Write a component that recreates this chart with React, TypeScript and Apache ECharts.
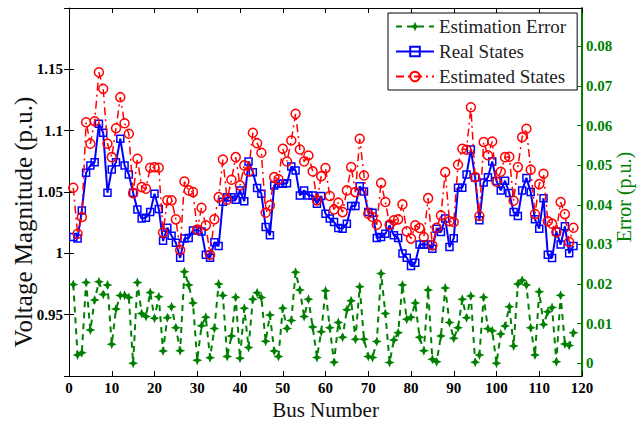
import React, { useEffect, useRef } from "react";
import * as echarts from "echarts";

const busNumbers: number[] = Array.from({ length: 118 }, (_, i) => i + 1);

const realStates: number[] = [
  1.0133, 1.012, 1.035, 1.0657, 1.0717, 1.0743, 1.1056, 1.0983, 1.0494, 1.0684,
  1.0743, 1.0934, 1.0717, 1.0643, 1.0494, 1.0358, 1.0283, 1.0291, 1.0336, 1.0486,
  1.0362, 1.0102, 1.0208, 1.0144, 1.0087, 0.9963, 1.012, 1.0125, 1.0187, 1.0191,
  1.0179, 0.9989, 0.9963, 1.009, 1.0059, 1.0421, 1.0458, 1.0458, 1.0436, 1.0513,
  1.0425, 1.0749, 1.0662, 1.0532, 1.0486, 1.0214, 1.0147, 1.0554, 1.0568, 1.0568,
  1.0572, 1.0708, 1.0676, 1.0472, 1.0513, 1.0472, 1.0472, 1.0405, 1.0467, 1.0323,
  1.0283, 1.0255, 1.0206, 1.0201, 1.0242, 1.0385, 1.0385, 1.0546, 1.0505, 1.0336,
  1.0331, 1.0125, 1.0133, 1.016, 1.0228, 1.0147, 1.0125, 0.9998, 0.9965, 0.9897,
  0.9924, 1.0071, 1.0071, 1.0073, 1.0038, 1.0201, 1.0173, 1.0283, 1.0051, 1.0122,
  1.0535, 1.0535, 1.0643, 1.0847, 1.0619, 1.0269, 1.0578, 1.0621, 1.0749, 1.059,
  1.0513, 1.0592, 1.0491, 1.0336, 1.0304, 1.0513, 1.0615, 1.0499, 1.0277, 1.0201,
  1.045, 0.9989, 0.9962, 1.0179, 1.0071, 1.022, 1.0, 1.0059,
];

const estimatedStates: number[] = [
  1.0535, 1.016, 1.0296, 1.1069, 1.0893, 1.1077, 1.1476, 1.1341, 1.0893, 1.0784,
  1.102, 1.1273, 1.1061, 1.0975, 1.0491, 1.0771, 1.054, 1.0527, 1.0698, 1.0702,
  1.0698, 1.0169, 1.0432, 1.0432, 1.0277, 1.0027, 1.0586, 1.0513, 1.0499, 1.0193,
  1.0372, 1.0228, 0.9989, 1.0277, 1.0458, 1.0765, 1.0437, 1.06, 1.0784, 1.0554,
  1.0717, 1.0668, 1.0983, 1.0898, 1.082, 1.0331, 1.0391, 1.0621, 1.0603, 1.0853,
  1.0749, 1.092, 1.1137, 1.0847, 1.0749, 1.0798, 1.0668, 1.0432, 1.0629, 1.0695,
  1.0467, 1.0358, 1.0413, 1.0336, 1.0513, 1.0703, 1.0499, 1.0934, 1.0635, 1.0323,
  1.0296, 1.0234, 1.0574, 1.0418, 1.0234, 1.0269, 1.0277, 1.0399, 1.0179, 1.012,
  1.0228, 1.0206, 1.0133, 1.045, 1.0065, 1.0209, 1.0309, 1.0662, 1.0261, 1.0255,
  1.0722, 1.0853, 1.0844, 1.1191, 1.0621, 1.0304, 1.0908, 1.08, 1.0912, 1.0584,
  1.0665, 1.0784, 1.0787, 1.0429, 1.0703, 1.0947, 1.1016, 1.0682, 1.032, 1.0564,
  1.0649, 1.0262, 1.0242, 1.0173, 1.0418, 1.032, 1.0092, 1.0209,
];

const estimationError: number[] = [
  0.0199, 0.0021, 0.0027, 0.0204, 0.0084, 0.016, 0.0206, 0.0174, 0.0198, 0.0048,
  0.0137, 0.0171, 0.0172, 0.0166, 0.0, 0.0204, 0.0126, 0.0118, 0.0179, 0.0114,
  0.0168, 0.0031, 0.0115, 0.0143, 0.009, 0.0032, 0.0231, 0.0198, 0.0152, 0.0008,
  0.0095, 0.0116, 0.0014, 0.0088, 0.02, 0.0171, 0.0017, 0.0069, 0.0167, 0.0013,
  0.0139, 0.004, 0.0162, 0.0178, 0.0166, 0.0056, 0.0122, 0.0031, 0.0017, 0.0139,
  0.0088, 0.0108, 0.023, 0.0185, 0.0118, 0.0162, 0.0092, 0.0015, 0.008, 0.0183,
  0.009, 0.0003, 0.0103, 0.0066, 0.0135, 0.0158, 0.0061, 0.0193, 0.0061, 0.0017,
  0.0015, 0.0055, 0.0227, 0.0126, 0.0002, 0.0059, 0.0077, 0.0198, 0.0111, 0.0116,
  0.0152, 0.0066, 0.0032, 0.0185, 0.001, 0.0004, 0.0069, 0.019, 0.0103, 0.0063,
  0.009, 0.0162, 0.0115, 0.017, 0.0003, 0.0021, 0.0167, 0.0087, 0.0082, 0.0,
  0.0074, 0.0094, 0.0143, 0.0044, 0.02, 0.021, 0.0198, 0.009, 0.0021, 0.0181,
  0.0098, 0.013, 0.0141, 0.0004, 0.0172, 0.0049, 0.0045, 0.0077,
];

const errorTicks: number[] = [0, 0.01, 0.02, 0.03, 0.04, 0.05, 0.06, 0.07, 0.08];

const GREEN = "#008000";
const BLUE = "#0000ff";
const RED = "#ff0000";
const SERIF = "'Liberation Serif', 'Times New Roman', serif";
const STAR = "path://M0,-10 L3,-3 L10,0 L3,3 L0,10 L-3,3 L-10,0 L-3,-3 Z";

export default function App() {
  const ref = useRef<HTMLDivElement>(null);

  useEffect(() => {
    if (!ref.current) return;
    const chart = echarts.init(ref.current, undefined, { renderer: "svg" });
    const pair = (vals: number[]) => busNumbers.map((b, i) => [b, vals[i]]);
    const tickLabel = {
      fontFamily: SERIF,
      fontWeight: "bold" as const,
      fontSize: 15,
      color: "#000",
    };
    chart.setOption({
      animation: false,
      backgroundColor: "#fff",
      grid: {
        left: 69,
        right: 61,
        top: 8,
        bottom: 45,
        containLabel: false,
        outerBoundsMode: "none",
      },
      graphic: [
        {
          type: "text",
          x: 23,
          y: 222,
          rotation: Math.PI / 2,
          style: {
            text: "Voltage Magnitude (p.u.)",
            fontFamily: SERIF,
            fontSize: 25,
            fill: "#111",
            align: "center",
            verticalAlign: "middle",
          },
        },
        {
          type: "text",
          x: 624,
          y: 197,
          rotation: Math.PI / 2,
          style: {
            text: "Error (p.u.)",
            fontFamily: SERIF,
            fontSize: 20,
            fill: GREEN,
            align: "center",
            verticalAlign: "middle",
          },
        },
      ],
      legend: {
        data: ["Estimation Error", "Real States", "Estimated States"],
        orient: "vertical",
        left: 388,
        top: 13,
        itemWidth: 38,
        itemHeight: 12,
        itemGap: 6,
        padding: [4, 11, 4, 7],
        backgroundColor: "#fff",
        borderColor: "#000",
        borderWidth: 1,
        borderRadius: 0,
        textStyle: { fontFamily: SERIF, fontSize: 19, color: "#222" },
      },
      xAxis: [
        {
          type: "value",
          min: 0,
          max: 120,
          interval: 10,
          position: "bottom",
          name: "Bus Number",
          nameLocation: "middle",
          nameGap: 21,
          nameTextStyle: { fontFamily: SERIF, fontSize: 21, color: "#111" },
          axisLine: { show: true, onZero: false, lineStyle: { color: "#000", width: 1 } },
          axisTick: { show: true, inside: true, length: 5, lineStyle: { color: "#000" } },
          axisLabel: { ...tickLabel, margin: 4 },
          splitLine: { show: false },
        },
        {
          type: "value",
          min: 0,
          max: 120,
          interval: 10,
          position: "top",
          axisLine: { show: true, onZero: false, lineStyle: { color: "#000", width: 1 } },
          axisTick: { show: true, inside: true, length: 5, lineStyle: { color: "#000" } },
          axisLabel: { show: false },
          splitLine: { show: false },
        },
      ],
      yAxis: [
        {
          type: "value",
          min: 0.9,
          max: 1.2,
          interval: 0.05,
          position: "left",
          axisLine: { show: true, onZero: false, lineStyle: { color: "#000", width: 1 } },
          axisTick: { show: true, inside: true, length: 5, lineStyle: { color: "#000" } },
          axisLabel: {
            ...tickLabel,
            margin: 6,
            showMinLabel: false,
            showMaxLabel: false,
            formatter: (v: number) => String(parseFloat(v.toFixed(2))),
          },
          splitLine: { show: false },
        },
        {
          type: "value",
          min: -0.0032,
          max: 0.0897,
          position: "right",
          axisLine: { show: true, onZero: false, lineStyle: { color: GREEN, width: 2 } },
          axisTick: {
            show: true,
            inside: true,
            length: 5,
            customValues: errorTicks,
            lineStyle: { color: GREEN },
          },
          axisLabel: {
            ...tickLabel,
            color: GREEN,
            margin: 4,
            customValues: errorTicks,
            formatter: (v: number) => String(parseFloat(v.toFixed(2))),
          },
          splitLine: { show: false },
        },
        {
          type: "value",
          min: 0.9,
          max: 1.2,
          interval: 0.05,
          position: "right",
          axisLine: { show: false },
          axisTick: { show: true, inside: true, length: 5, lineStyle: { color: "#000" } },
          axisLabel: { show: false },
          splitLine: { show: false },
        },
      ],
      series: [
        {
          name: "Estimation Error",
          type: "line",
          xAxisIndex: 0,
          yAxisIndex: 1,
          data: pair(estimationError),
          symbol: STAR,
          symbolSize: 10,
          lineStyle: { color: GREEN, width: 2, type: [6, 5] },
          itemStyle: { color: GREEN },
          z: 2,
        },
        {
          name: "Real States",
          type: "line",
          xAxisIndex: 0,
          yAxisIndex: 0,
          data: pair(realStates),
          symbol: "rect",
          symbolSize: 7,
          lineStyle: { color: BLUE, width: 2 },
          itemStyle: { color: "rgba(255,255,255,0)", borderColor: BLUE, borderWidth: 1.5 },
          z: 3,
        },
        {
          name: "Estimated States",
          type: "line",
          xAxisIndex: 0,
          yAxisIndex: 0,
          data: pair(estimatedStates),
          symbol: "circle",
          symbolSize: 9,
          lineStyle: { color: RED, width: 1.5, type: [8, 4, 2, 4] },
          itemStyle: { color: "rgba(255,255,255,0)", borderColor: RED, borderWidth: 1.5 },
          z: 4,
        },
      ],
    });
    return () => chart.dispose();
  }, []);

  return (
    <div
      ref={ref}
      style={{ position: "absolute", left: 0, top: 0, width: 643, height: 421 }}
    />
  );
}
